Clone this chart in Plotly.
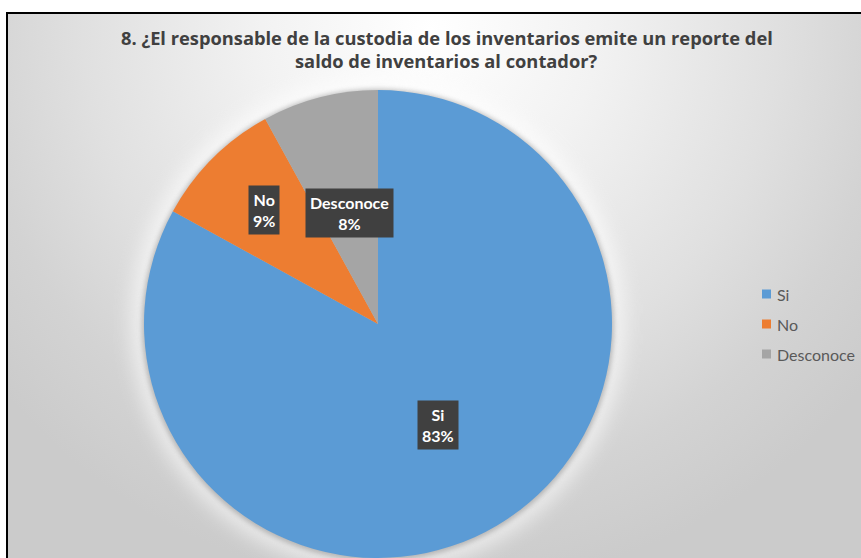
import math
import urllib.parse
import plotly.graph_objects as go

# Survey answers (percent of respondents)
categories = ["Si", "No", "Desconoce"]
percentages = [83, 9, 8]
slice_colors = ["#5B9BD5", "#ED7D31", "#A5A5A5"]

title_lines = [
    "8. ¿El responsable de la custodia de los inventarios emite un reporte del",
    "saldo de inventarios al contador?",
]

W, H = 861, 558
CX, CY, R = 378, 324, 234          # pie centre and radius in pixels
label_radius = [0.50, 0.69, 0.49]  # where each data label sits along its slice bisector

FONT = "Lato, Open Sans, sans-serif"
TITLE_FONT = "Open Sans, Lato, sans-serif"

# Chart-area background: radial grey gradient, frame lines and a soft halo behind the pie
svg = f"""<svg xmlns='http://www.w3.org/2000/svg' width='{W}' height='{H}' viewBox='0 0 {W} {H}' preserveAspectRatio='none'>
<defs>
<radialGradient id='g' gradientUnits='userSpaceOnUse' cx='430' cy='30' r='560'>
<stop offset='0' stop-color='#ffffff'/>
<stop offset='0.30' stop-color='#f2f2f2'/>
<stop offset='0.62' stop-color='#e0e0e0'/>
<stop offset='0.82' stop-color='#d3d3d3'/>
<stop offset='1' stop-color='#cbcbcb'/>
</radialGradient>
<filter id='b1' x='-20%' y='-20%' width='140%' height='140%'><feGaussianBlur stdDeviation='9'/></filter>
<filter id='b2' x='-20%' y='-20%' width='140%' height='140%'><feGaussianBlur stdDeviation='2.5'/></filter>
</defs>
<rect x='0' y='0' width='{W}' height='{H}' fill='#ffffff'/>
<rect x='8' y='14' width='{W}' height='{H}' fill='url(#g)'/>
<circle cx='{CX}' cy='{CY}' r='{R + 14}' fill='#ffffff' opacity='0.55' filter='url(#b1)'/>
<circle cx='{CX}' cy='{CY + 1}' r='{R + 2}' fill='#8c8c8c' opacity='0.55' filter='url(#b2)'/>
<line x1='7' y1='13' x2='{W}' y2='13' stroke='#000000' stroke-width='2'/>
<line x1='7' y1='12' x2='7' y2='{H}' stroke='#000000' stroke-width='2'/>
</svg>"""
bg_src = "data:image/svg+xml;charset=utf-8," + urllib.parse.quote(svg)

fig = go.Figure(
    go.Pie(
        labels=categories,
        values=percentages,
        marker=dict(colors=slice_colors, line=dict(width=0)),
        sort=False,
        direction="clockwise",
        rotation=0,
        textinfo="none",
        hoverinfo="label+percent",
        showlegend=False,
        domain=dict(x=[(CX - R) / W, (CX + R) / W], y=[(H - CY - R) / H, (H - CY + R) / H]),
    )
)

annotations = []

# Title
for i, line in enumerate(title_lines):
    annotations.append(dict(
        x=447 / W, y=1 - (37 + 23 * i) / H, xref="paper", yref="paper",
        text=f"<b>{line}</b>", showarrow=False, xanchor="center", yanchor="middle",
        font=dict(family=TITLE_FONT, size=18.3, color="#404040"),
    ))

# Data labels placed on each slice bisector
total = sum(percentages)
cum = 0
for cat, val, rf in zip(categories, percentages, label_radius):
    mid = (cum + val / 2) / total * 2 * math.pi
    cum += val
    px = CX + R * rf * math.sin(mid)
    py = CY - R * rf * math.cos(mid)
    pct = round(val / total * 100)
    annotations.append(dict(
        x=px / W, y=1 - py / H, xref="paper", yref="paper",
        text=f"<b>{cat}</b><br><b>{pct}%</b>", showarrow=False,
        xanchor="center", yanchor="middle", align="center",
        font=dict(family=FONT, size=16, color="#ffffff"),
        bgcolor="#404040", borderpad=4,
    ))

# Legend
shapes = []
for i, (cat, col) in enumerate(zip(categories, slice_colors)):
    yc = 294 + 30 * i
    shapes.append(dict(
        type="rect", xref="paper", yref="paper",
        x0=762 / W, x1=771 / W, y0=1 - (yc + 4.5) / H, y1=1 - (yc - 4.5) / H,
        fillcolor=col, line=dict(width=0),
    ))
    annotations.append(dict(
        x=775 / W, y=1 - yc / H, xref="paper", yref="paper",
        text=cat, showarrow=False, xanchor="left", yanchor="middle",
        font=dict(family=FONT, size=16, color="#595959"),
    ))

fig.update_layout(
    width=W, height=H,
    margin=dict(l=0, r=0, t=0, b=0),
    paper_bgcolor="#ffffff",
    plot_bgcolor="rgba(0,0,0,0)",
    images=[dict(source=bg_src, xref="paper", yref="paper", x=0, y=1,
                 sizex=1, sizey=1, xanchor="left", yanchor="top",
                 sizing="stretch", layer="below")],
    annotations=annotations,
    shapes=shapes,
)

fig.write_html("out.html")
